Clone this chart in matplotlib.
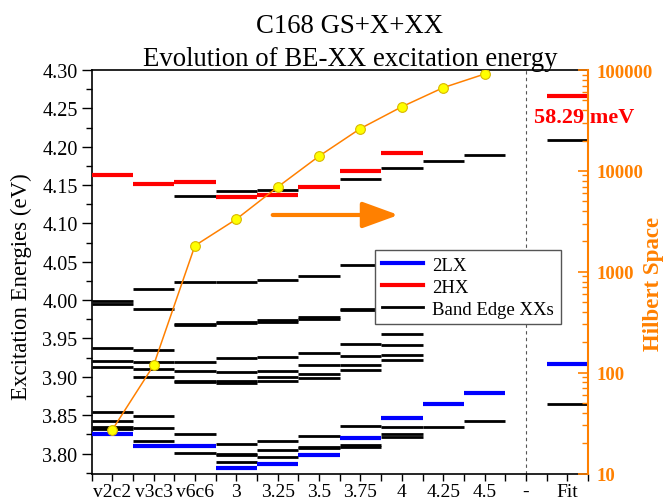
import matplotlib
matplotlib.use('Agg')
import matplotlib.pyplot as plt
from matplotlib.lines import Line2D
from matplotlib.ticker import FixedLocator, MultipleLocator, FuncFormatter, LogLocator, NullFormatter

plt.rcParams['font.family'] = ['Liberation Serif', 'DejaVu Serif']

categories = ['v2c2', 'v3c3', 'v6c6', '3', '3.25', '3.5', '3.75', '4', '4.25', '4.5', '-', 'Fit']

band_edge_xx = [
    [3.999, 3.995, 3.937, 3.921, 3.913, 3.854, 3.842, 3.835, 3.832],
    [4.014, 3.988, 3.935, 3.920, 3.910, 3.900, 3.849, 3.833, 3.817],
    [4.136, 4.023, 3.969, 3.967, 3.920, 3.907, 3.895, 3.893, 3.825, 3.801],
    [4.142, 4.023, 3.972, 3.970, 3.924, 3.906, 3.894, 3.892, 3.813, 3.800, 3.798, 3.789],
    [4.143, 4.026, 3.974, 3.972, 3.926, 3.908, 3.900, 3.895, 3.817, 3.804, 3.795],
    [4.032, 3.978, 3.976, 3.931, 3.916, 3.904, 3.898, 3.823, 3.809, 3.807],
    [4.158, 4.046, 3.989, 3.987, 3.943, 3.927, 3.915, 3.909, 3.836, 3.811, 3.809],
    [4.172, 3.956, 3.941, 3.929, 3.922, 3.834, 3.826, 3.822],
    [4.182, 3.834],
    [4.189, 3.842],
    [],
    [4.209, 3.864],
]
two_hx = [4.163, 4.151, 4.154, 4.134, 4.137, 4.147, 4.168, 4.192, None, None, None, 4.266]
two_lx = [3.826, 3.810, 3.810, 3.781, 3.787, 3.798, 3.820, 3.847, 3.865, 3.879, None, 3.917]
hilbert_space = [27, 118, 1815, 3320, 6920, 14000, 26300, 43200, 66800, 91200]
fit_label = '58.29 meV'

ORANGE = '#FF8000'
W, H = 666, 502
fig = plt.figure(figsize=(W / 100, H / 100), dpi=100)
ax = fig.add_axes([91.5 / W, 1 - 474.5 / H, 496.5 / W, 403.5 / H])

for i, levels in enumerate(band_edge_xx):
    if levels:
        ax.hlines(levels, i - 0.5, i + 0.5, colors='black', linewidth=2.0, zorder=2)
for i, v in enumerate(two_hx):
    if v is not None:
        ax.hlines(v, i - 0.5, i + 0.5, colors='#FF0000', linewidth=3.0, zorder=3)
for i, v in enumerate(two_lx):
    if v is not None:
        ax.hlines(v, i - 0.5, i + 0.5, colors='#0000FF', linewidth=3.0, zorder=3)

ax.axvline(categories.index('-'), color='#555555', linestyle=(0, (3, 3)), linewidth=0.8, zorder=1)

ax.set_xlim(-0.5, len(categories) - 0.5)
ax.set_ylim(3.774, 4.30)
ax.xaxis.set_major_locator(FixedLocator(range(len(categories))))
ax.set_xticklabels(categories, fontsize=14)
ax.xaxis.set_minor_locator(FixedLocator([i - 0.5 for i in range(len(categories) + 1)]))
ax.yaxis.set_major_locator(MultipleLocator(0.05))
ax.yaxis.set_minor_locator(MultipleLocator(0.025))
ax.yaxis.set_major_formatter(FuncFormatter(lambda v, p: f'{v:.2f}'))
ax.tick_params(axis='y', which='major', direction='out', length=7, width=1, labelsize=14.5, pad=3)
ax.tick_params(axis='y', which='minor', direction='out', length=4, width=1)
ax.tick_params(axis='x', which='major', direction='out', length=5, width=1, pad=2)
ax.tick_params(axis='x', which='minor', direction='out', length=5, width=1)
ax.spines['right'].set_visible(False)
for s in ['left', 'top', 'bottom']:
    ax.spines[s].set_linewidth(1.2)

ax.annotate('', xy=(6.92, 4.111), xytext=(3.88, 4.111),
            arrowprops=dict(arrowstyle='-|>,head_length=1.1,head_width=0.4',
                            color=ORANGE, lw=3, mutation_scale=20, shrinkA=0, shrinkB=0), zorder=4)

ax.text(10.19, 4.2386, fit_label, color='#FF0000', fontsize=16, fontweight='bold',
        ha='left', va='center', clip_on=False, zorder=6)

handles = [Line2D([], [], color='#0000FF', lw=3.0),
           Line2D([], [], color='#FF0000', lw=3.0),
           Line2D([], [], color='black', lw=2.0)]
leg = ax.legend(handles, ['2LX', '2HX', 'Band Edge XXs'], loc='upper left',
                bbox_to_anchor=(0.571, 0.553), fontsize=13.5, frameon=True, fancybox=False,
                edgecolor='#555555', framealpha=1, handlelength=2.2, borderpad=0.35,
                labelspacing=0.25, handletextpad=0.5, borderaxespad=0)
leg.get_frame().set_linewidth(1.0)
leg.set_zorder(10)

ax2 = ax.twinx()
ax2.set_yscale('log')
ax2.set_ylim(10, 100000)
ax2.plot(range(len(hilbert_space)), hilbert_space, color=ORANGE, lw=1.1, marker='o',
         markersize=7, markerfacecolor='#FFFF00', markeredgecolor='#D8B800', markeredgewidth=0.8,
         zorder=5)
for s in ['left', 'top', 'bottom']:
    ax2.spines[s].set_visible(False)
ax2.spines['right'].set_color(ORANGE)
ax2.spines['right'].set_linewidth(1.5)
ax2.yaxis.set_major_locator(LogLocator(base=10, numticks=10))
ax2.yaxis.set_minor_locator(LogLocator(base=10, subs=range(2, 10), numticks=20))
ax2.yaxis.set_minor_formatter(NullFormatter())
ax2.yaxis.set_major_formatter(FuncFormatter(lambda v, p: f'{int(round(v))}'))
ax2.tick_params(axis='y', which='major', direction='in', length=7, width=1.2, color=ORANGE,
                labelcolor=ORANGE, labelsize=13.5, pad=6)
ax2.tick_params(axis='y', which='minor', direction='in', length=4, width=1, color=ORANGE)
for lab in ax2.get_yticklabels():
    lab.set_fontweight('bold')

fig.text(350 / W, 1 - 33 / H, 'C168 GS+X+XX', ha='center', va='baseline', fontsize=19.3)
fig.text(350 / W, 1 - 66 / H, 'Evolution of BE-XX excitation energy', ha='center', va='baseline', fontsize=19.3)
fig.text(21.7 / W, 1 - 286.7 / H, 'Excitation Energies (eV)', rotation=90, ha='center', va='center', fontsize=16.5)
fig.text(654 / W, 1 - 284 / H, 'Hilbert Space', rotation=90, ha='center', va='center', fontsize=16.5,
         fontweight='bold', color=ORANGE)

fig.savefig('out.png', dpi=100)
